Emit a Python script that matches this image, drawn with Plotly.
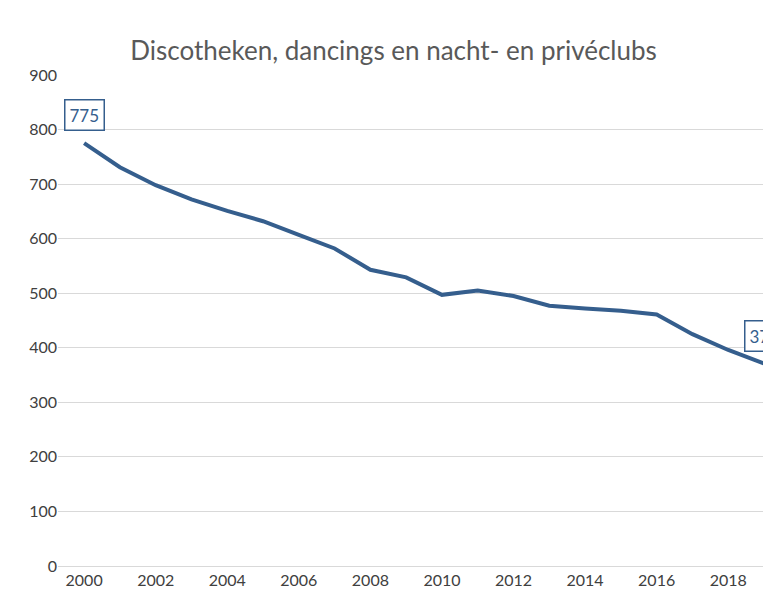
import plotly.graph_objects as go

years = list(range(2000, 2020))
values = [775, 731, 698, 672, 651, 632, 607, 582, 543, 529, 497, 505, 495, 477, 472, 468, 461, 425, 396, 371]
tick_years = list(range(2000, 2020, 2))

line_color = '#355E8D'

fig = go.Figure()
fig.add_trace(go.Scatter(x=years, y=values, mode='lines', cliponaxis=False,
                         line=dict(color=line_color, width=4), hoverinfo='x+y'))

# labels for first and last point
for x, y in [(years[0], values[0]), (years[-1], values[-1])]:
    fig.add_annotation(x=x, y=y, text=str(y), showarrow=False, yshift=28,
                       font=dict(size=17, color=line_color),
                       bordercolor=line_color, borderwidth=1.5, borderpad=4,
                       bgcolor='white')

fig.update_layout(
    width=771, height=612,
    title=dict(text='Discotheken, dancings en nacht- en privéclubs', x=0.5, y=0.945,
               font=dict(size=26, color='#595959')),
    font=dict(family='Lato, sans-serif', size=16, color='#404040'),
    plot_bgcolor='white', paper_bgcolor='white',
    margin=dict(l=50, r=15, t=67, b=54),
    showlegend=False,
    xaxis=dict(range=[1999.27, 2019.0], tickvals=tick_years, showgrid=False,
               showline=True, linecolor='#D9D9D9', ticks=''),
    yaxis=dict(range=[0, 900], dtick=100, showgrid=True, gridcolor='#D9D9D9',
               zeroline=False, ticks=''),
)

fig.write_html('out.html')
